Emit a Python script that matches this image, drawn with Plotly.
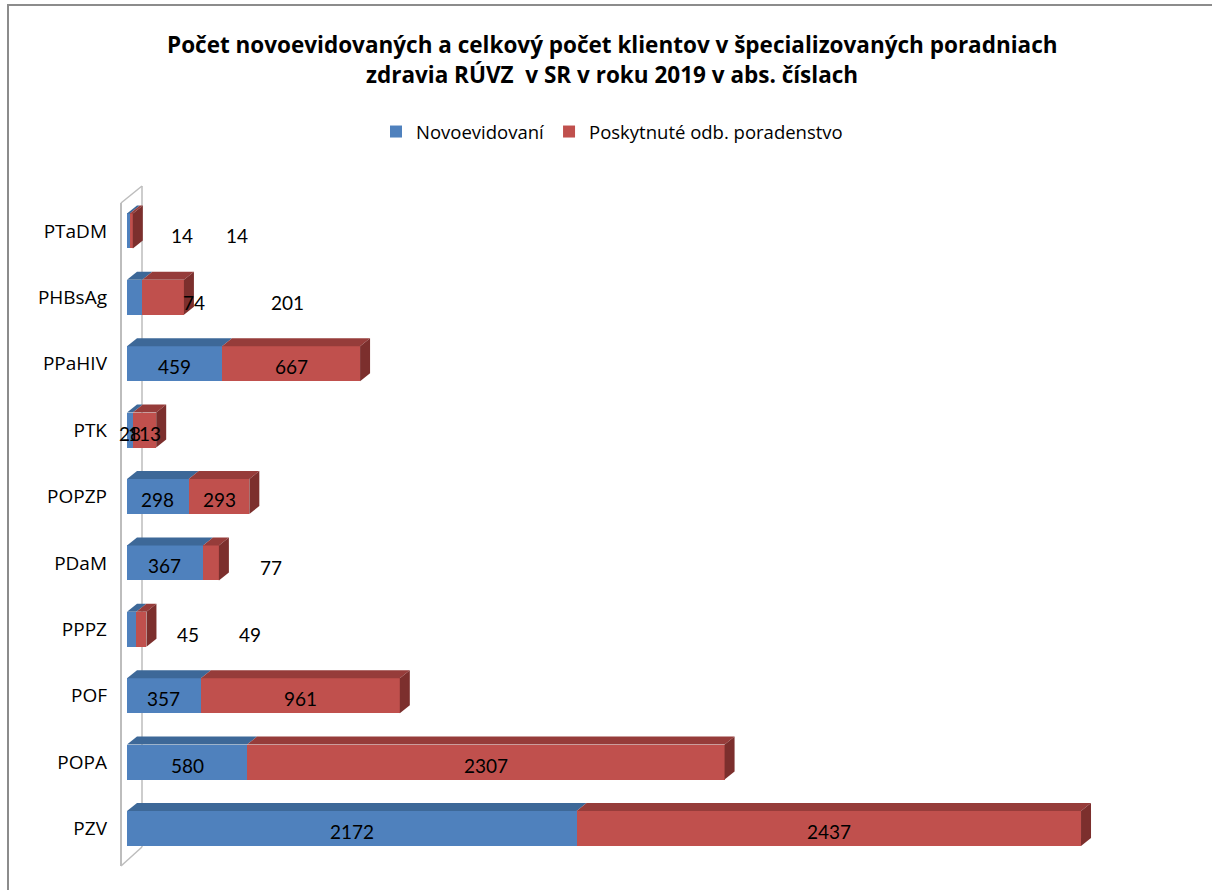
import plotly.graph_objects as go

# ---------------- data ----------------
categories = ["PZV", "POPA", "POF", "PPPZ", "PDaM", "POPZP", "PTK", "PPaHIV", "PHBsAg", "PTaDM"]
novoevidovani = [2172, 580, 357, 45, 367, 298, 28, 459, 74, 14]
poskytnute = [2437, 2307, 961, 49, 77, 293, 113, 667, 201, 14]
series_names = ["Novoevidovaní", "Poskytnuté odb. poradenstvo"]
title_lines = [
    "Počet novoevidovaných a celkový počet klientov v špecializovaných poradniach",
    "zdravia RÚVZ  v SR v roku 2019 v abs. číslach",
]

# ---------------- styling / layout constants ----------------
FONT = "Lato"
FONT_WIDE = "Open Sans"
FRONT = ["#4F81BD", "#C0504D"]
TOP = ["#3D6898", "#963C3A"]
SIDE = ["#2F5584", "#7C2F2D"]
WALL = "#BDBDBD"

W, H = 1212, 890
PL, PR, PT, PB = 118, 1180, 160, 880      # plot area in pixels
X0_PX, X_SCALE = 127, 0.20699             # pixel of value 0, pixels per unit
Y0_PX, CAT_PX = 828.5, 66.4               # pixel of first category, pixels per category
BAR_PX, DEPTH_X, DEPTH_Y = 35, 10, 8
TITLE_Y_PX = [45, 75]
# labels placed to the right of the bar (category, series index)
OUTSIDE = {("PTaDM", 0), ("PTaDM", 1), ("PHBsAg", 0), ("PHBsAg", 1),
           ("PPPZ", 0), ("PPPZ", 1), ("PDaM", 1)}
OUT_STEP = 52

xr = [(PL - X0_PX) / X_SCALE, (PR - X0_PX) / X_SCALE]
yr = [-(PB - Y0_PX) / CAT_PX, (Y0_PX - PT) / CAT_PX]
bw = BAR_PX / CAT_PX
dx = DEPTH_X / X_SCALE
dy = DEPTH_Y / CAT_PX


def ypx(p):
    return (Y0_PX - p) / CAT_PX


def xpx(p):
    return (p - X0_PX) / X_SCALE


def paper_x(p):
    return (p - PL) / (PR - PL)


def paper_y(p):
    return (PB - p) / (PB - PT)


idx = list(range(len(categories)))
series = [novoevidovani, poskytnute]

fig = go.Figure()
for s, vals in enumerate(series):
    base = [0] * len(vals) if s == 0 else novoevidovani
    fig.add_trace(go.Bar(
        y=idx, x=vals, base=base, orientation="h", width=bw,
        name=series_names[s], marker=dict(color=FRONT[s], line=dict(width=0)),
        hoverinfo="x+name",
    ))

shapes = []
# 3D wall at the left
fx, bx = xpx(121), xpx(142)
wall_lines = [
    (fx, ypx(203), fx, ypx(866), 2),
    (bx, ypx(186), bx, ypx(847), 1.5),
    (fx, ypx(203), bx, ypx(186), 1.5),
    (fx, ypx(866), bx, ypx(847), 1.5),
]
for x0, y0, x1, y1, w in wall_lines:
    shapes.append(dict(type="line", xref="x", yref="y", x0=x0, y0=y0, x1=x1, y1=y1,
                       line=dict(color=WALL, width=w), layer="below"))

# 3D faces of bars
for i in idx:
    cum = 0
    yt = i + bw / 2
    yb = i - bw / 2
    for s, vals in enumerate(series):
        x0, x1 = cum, cum + vals[i]
        cum = x1
        path = (f"M {x0},{yt} L {x1},{yt} L {x1 + dx},{yt + dy} "
                f"L {x0 + dx},{yt + dy} Z")
        shapes.append(dict(type="path", xref="x", yref="y", path=path,
                           fillcolor=TOP[s], line=dict(width=0), layer="above"))
        if s == len(series) - 1:
            path = (f"M {x1},{yb} L {x1},{yt} L {x1 + dx},{yt + dy} "
                    f"L {x1 + dx},{yb + dy} Z")
            shapes.append(dict(type="path", xref="x", yref="y", path=path,
                               fillcolor=SIDE[s], line=dict(width=0), layer="above"))

# outer frame of the chart
shapes.append(dict(type="rect", xref="paper", yref="paper",
                   x0=paper_x(8), x1=paper_x(W + 10), y0=paper_y(H + 10), y1=paper_y(5),
                   line=dict(color="#8C8C8C", width=2), fillcolor="rgba(0,0,0,0)",
                   layer="below"))

annotations = []
# title (two lines)
for line, py in zip(title_lines, TITLE_Y_PX):
    annotations.append(dict(x=paper_x(612), y=paper_y(py), xref="paper", yref="paper",
                            text=line, showarrow=False, xanchor="center", yanchor="middle",
                            font=dict(family=FONT_WIDE, size=22.5, color="black",
                                      weight="bold")))

# data labels
for i, cat in enumerate(categories):
    cum = 0
    k = 0
    for s, vals in enumerate(series):
        v = vals[i]
        x0, x1 = cum, cum + v
        cum = x1
        if (cat, s) in OUTSIDE:
            k += 1
            annotations.append(dict(x=x1, y=i, xref="x", yref="y", text=str(v),
                                    showarrow=False, xshift=OUT_STEP * k, yshift=-5,
                                    font=dict(family=FONT, size=19, color="black")))
        else:
            annotations.append(dict(x=(x0 + x1) / 2, y=i, xref="x", yref="y", text=str(v),
                                    showarrow=False, yshift=-3,
                                    font=dict(family=FONT, size=19, color="black")))

fig.update_layout(
    width=W, height=H,
    margin=dict(l=PL, r=W - PR, t=PT, b=H - PB, pad=0),
    paper_bgcolor="white", plot_bgcolor="white",
    barmode="stack", bargap=0,
    legend=dict(orientation="h", x=paper_x(612), xanchor="center",
                y=paper_y(132), yanchor="middle",
                font=dict(family=FONT_WIDE, size=18.5, color="black"),
                itemwidth=30, traceorder="normal"),
    xaxis=dict(range=xr, visible=False, fixedrange=True),
    yaxis=dict(range=yr, tickvals=idx, ticktext=categories, showgrid=False,
               zeroline=False, showline=False, ticks="", ticklabelstandoff=10,
               tickfont=dict(family=FONT_WIDE, size=19, color="black"), fixedrange=True),
    shapes=shapes,
    annotations=annotations,
    showlegend=True,
)

fig.write_html("out.html", config={"displayModeBar": False},
               post_script="document.body.style.margin='0';")
